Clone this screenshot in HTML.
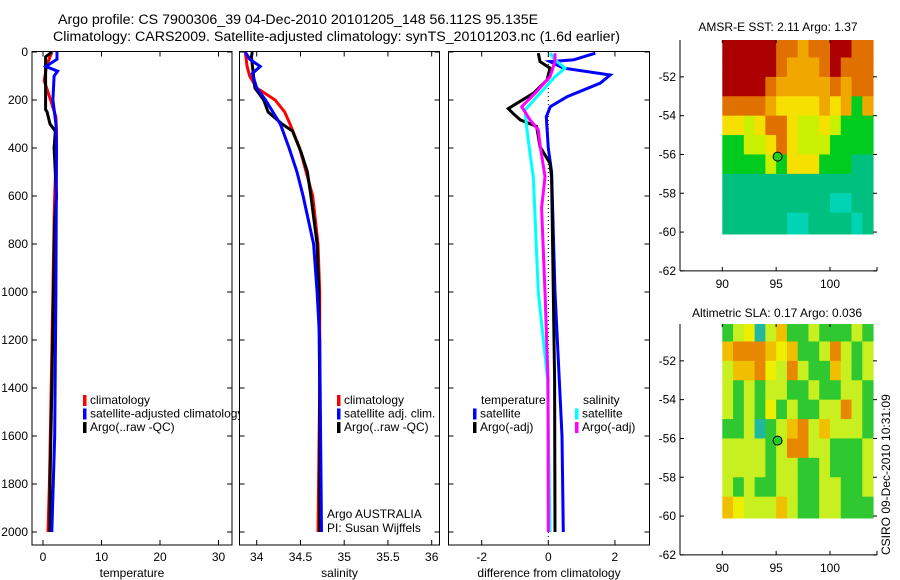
<!DOCTYPE html>
<html><head><meta charset="utf-8">
<style>
html,body{margin:0;padding:0;background:#fff;}
svg{display:block;font-family:"Liberation Sans",sans-serif;}
text{font-size:12px;fill:#000;}
</style></head>
<body>
<svg id="chart" width="900" height="580" viewBox="0 0 900 580" xmlns="http://www.w3.org/2000/svg">
<defs><clipPath id="clip1"><rect x="0" y="0" width="239" height="580"/></clipPath></defs>
<text x="58" y="24" style="font-size:14.2px">Argo profile: CS 7900306_39 04-Dec-2010 20101205_148 56.112S 95.135E</text>
<text x="53" y="41" style="font-size:14.2px">Climatology: CARS2009. Satellite-adjusted climatology: synTS_20101203.nc (1.6d earlier)</text>
<text x="778" y="31" text-anchor="middle">AMSR-E SST: 2.11 Argo: 1.37</text>
<text x="777" y="317" text-anchor="middle">Altimetric SLA: 0.17 Argo: 0.036</text>
<text transform="translate(890,555) rotate(-90)">CSIRO 09-Dec-2010 10:31:09</text>
<g id="plots"></g>
</svg>
<script>
// depth levels
const depT=[0,20,60,120,200,270,330,400,600,700,1000,1400,1800,2000];
const tClim=[1.5,1.2,0.6,0.2,1.3,2.2,2.3,2.3,2.0,1.9,1.7,1.4,1.1,0.85];
const depTA=[0,20,100,240,250,300,330,400,600,700,1000,1400,1800,2000];
const tArgo=[1.5,0.45,0.45,0.45,0.7,1.2,2.1,1.9,2.3,2.0,1.8,1.5,1.2,1.2];
const depTS=[0,30,60,80,100,200,240,300,400,1000,1600,2000];
const tSat=[2.4,2.4,0.5,2.5,1.9,1.7,1.9,2.2,2.3,2.2,2.0,1.5];

const depS=[0,60,100,150,200,250,300,400,600,800,1000,1400,2000];
const sClim=[33.87,33.89,33.92,34.0,34.21,34.32,34.38,34.49,34.64,34.70,34.72,34.72,34.70];
const depSA=[0,20,150,200,250,300,330,420,500,600,800,1000,1400,2000];
const sArgo=[33.95,33.94,33.98,34.08,34.13,34.29,34.41,34.51,34.58,34.62,34.69,34.71,34.72,34.72];
const depSS=[0,30,60,90,150,200,300,400,500,600,800,1000,1200,2000];
const sSat=[33.87,33.92,34.04,33.95,34.0,34.1,34.27,34.37,34.46,34.53,34.65,34.69,34.72,34.74];

const depD=[5,33,40,67,96,130,186,228,270,400,500,1000,1367,1600,2000];
const dTSat=[1.41,0.75,0.05,0.45,1.86,1.56,0.57,0.06,-0.06,0.0,0.1,0.2,0.33,0.41,0.45];
const depDA=[5,40,67,117,172,236,257,283,310,394,464,520,1000,1367,2000];
const dTArgo=[-0.3,-0.25,0.05,-0.04,-0.45,-1.2,-1.05,-0.84,-0.35,-0.25,0.05,0.1,0.15,0.19,0.2];
const depDC=[5,33,67,103,172,242,325,422,520,1000,1367,2000];
const dSSat=[0.05,0.2,0.5,0.2,-0.25,-0.7,-0.64,-0.55,-0.45,-0.3,-0.02,0.05];
const depDM=[5,40,103,172,228,283,325,394,520,650,1000,1367,2000];
const dSArgo=[0.2,0.2,0.05,-0.4,-0.8,-0.55,-0.3,-0.24,-0.1,-0.2,-0.1,-0.01,0.0];

const depthTicks=[0,200,400,600,800,1000,1200,1400,1600,1800,2000];
const tempTicks=[0,10,20,30];
const salTicks=[34,34.5,35,35.5,36];
const diffTicks=[-2,0,2];
const latTicks=[-52,-54,-56,-58,-60,-62];
const lonTicks=[90,95,100];

// map grids: rows lat -50..-60 (1 deg), cols lon 90..104
const sstGrid=["RRRRROOoOORROO","RRRRROoooOROOO","RRRROoooooOoOO","OOOOoYYYYoYoGo","YYyYOOYyyYyGGG","GGyyYOYyyyGGGG","GGGGyGYYYGGGgg","gggggggggggggg","ggggggggggTTgg","ggggggTTggggTg"];
const slaGrid=["GyYTyoGGyGGGyG","oOOOoYoGGyOyGy","yooOYyOyGGoyGy","yGyGyyGGyGGyyG","yGyGYGyGGyyOyG","GGyTGyoOyoyyyG","yyyyGyOOyyGGGy","yyyyGyyGGyGGGy","yGyGGyyGGyyGGy","oYyyyoyGGyyGGG"];
const sstArgo=[95.135,-56.112];

const NS="http://www.w3.org/2000/svg";
const root=document.getElementById('plots');
function el(tag,attrs,parent){const e=document.createElementNS(NS,tag);for(const k in attrs)e.setAttribute(k,attrs[k]);(parent||root).appendChild(e);return e;}
const Y0=52, YK=0.24;
const yD=d=>Y0+d*YK;

function panel(name,x0,x1,xs,ticks,fmt,label,showY){
  const g=el('g',{});
  
  
  const fr=el('rect',{x:x0,y:51.5,width:x1-x0,height:545-51.5,fill:'none',stroke:'#000','stroke-width':1},g);
  
  
  depthTicks.forEach(d=>{
    el('line',{x1:x0,x2:x0+5,y1:yD(d),y2:yD(d),stroke:'#000'},g);
    el('line',{x1:x1-5,x2:x1,y1:yD(d),y2:yD(d),stroke:'#000'},g);
    if(showY){const t=el('text',{x:x0-4,y:yD(d)+4,'text-anchor':'end'},g);t.textContent=d;
      
      }
  });
  ticks.forEach(v=>{
    const x=xs(v);
    el('line',{x1:x,x2:x,y1:51.5,y2:56.5,stroke:'#000'},g);
    el('line',{x1:x,x2:x,y1:540,y2:545,stroke:'#000'},g);
    const t=el('text',{x:x,y:561,'text-anchor':'middle'},g);t.textContent=fmt(v);
    
    
  });
  const l=el('text',{x:(x0+x1)/2,y:577,'text-anchor':'middle'},g);l.textContent=label;
  
  
  return g;
}
function line(g,name,deps,vals,xs,color,w){
  const p=deps.map((d,i)=>xs(vals[i]).toFixed(1)+','+yD(d).toFixed(1)).join(' ');
  const e=el('polyline',{points:p,fill:'none',stroke:color,'stroke-width':w||3,'stroke-linejoin':'miter'},g);
  
  
}
function legend(g,x,y,items){
  items.forEach((it,i)=>{
    const yy=y+i*13.5;
    if(it.c) el('rect',{x:x,y:yy-9,width:3.5,height:11,fill:it.c},g);
    const t=el('text',{x:x+(it.c?7:8),y:yy},g);t.textContent=it.t;
    
    
  });
}

// Panel 1
const xT=v=>43+v*5.85;
const g1=panel('temperature-panel',32,232,xT,tempTicks,v=>v,'temperature',true);
line(g1,'temp-climatology-line',depT,tClim,xT,'#ff0000');
line(g1,'temp-argo-line',depTA,tArgo,xT,'#000');
line(g1,'temp-satellite-line',depTS,tSat,xT,'#0000ff');
const lg1=el('g',{'clip-path':'url(#clip1)'},g1);
legend(lg1,83,404,[{c:'#f00',t:'climatology'},{c:'#00f',t:'satellite-adjusted climatology'},{c:'#000',t:'Argo(..raw -QC)'}]);

// Panel 2
const xS=v=>256.7+(v-34)*87.5;
const g2=panel('salinity-panel',239.5,439.5,xS,salTicks,v=>v,'salinity',false);
line(g2,'sal-climatology-line',depS,sClim,xS,'#ff0000');
line(g2,'sal-argo-line',depSA,sArgo,xS,'#000');
line(g2,'sal-satellite-line',depSS,sSat,xS,'#0000ff');
legend(g2,337,404,[{c:'#f00',t:'climatology'},{c:'#00f',t:'satellite adj. clim.'},{c:'#000',t:'Argo(..raw -QC)'}]);
const a1=el('text',{x:327,y:518},g2);a1.textContent='Argo AUSTRALIA';


const a2=el('text',{x:327,y:532},g2);a2.textContent='PI: Susan Wijffels';



// Panel 3
const xDf=v=>548.3+v*33.3;
const g3=panel('difference-panel',448.5,649.5,xDf,diffTicks,v=>v,'difference from climatology',false);
el('line',{x1:xDf(0),x2:xDf(0),y1:52,y2:540,stroke:'#000','stroke-dasharray':'1,3'},g3);
line(g3,'temp-satellite-diff-line',depD,dTSat,xDf,'#0000ff');
line(g3,'temp-argo-diff-line',depDA,dTArgo,xDf,'#000');
line(g3,'sal-satellite-diff-line',depDC,dSSat,xDf,'#00ffff');
line(g3,'sal-argo-diff-line',depDM,dSArgo,xDf,'#ff00ff');
legend(g3,473,404,[{c:null,t:'temperature'},{c:'#00f',t:'satellite'},{c:'#000',t:'Argo(-adj)'}]);
legend(g3,575,404,[{c:null,t:'salinity'},{c:'#0ff',t:'satellite'},{c:'#f0f',t:'Argo(-adj)'}]);

// Maps
const sstCol={R:'#aa0000',O:'#e07000',o:'#f0a800',Y:'#f5e000',y:'#c8f000',G:'#00cc20',g:'#00c080',T:'#00d4b4'};
const slaCol={O:'#e88800',o:'#f0c000',Y:'#eeee00',y:'#c8f020',G:'#30c830',T:'#20b8a0'};
const xLon=lon=>722.3+(lon-90)*10.77;
function map(name,top,latTop,grid,cols){
  const g=el('g',{});
  
  
  const yLat=lat=>top+(latTop-lat)*19.4;
  grid.forEach((row,r)=>{
    for(let c=0;c<row.length;c++){
      const x=xLon(90+c), x2=Math.min(xLon(91+c),877);
      const cell=el('rect',{x:x,y:r==0?top:yLat(-50-r),width:x2-x+0.5,height:(r==9?yLat(-60.1):yLat(-51-r))-(r==0?top:yLat(-50-r))+0.5,fill:cols[row[c]]},g);
      
      
    }
  });
  const bot=yLat(-62);
  el('line',{x1:680,x2:680,y1:top,y2:bot,stroke:'#000'},g);
  el('line',{x1:680,x2:877,y1:bot,y2:bot,stroke:'#000'},g);
  latTicks.forEach(l=>{
    const y=yLat(l);
    el('line',{x1:680,x2:684,y1:y,y2:y,stroke:'#000'},g);
    el('line',{x1:873,x2:877,y1:y,y2:y,stroke:'#000'},g);
    const t=el('text',{x:676,y:y+4,'text-anchor':'end'},g);t.textContent=l;
    
    
  });
  lonTicks.forEach(l=>{
    const x=xLon(l);
    el('line',{x1:x,x2:x,y1:bot-4,y2:bot,stroke:'#000'},g);
    el('line',{x1:x,x2:x,y1:top,y2:top+3,stroke:'#000'},g);
    const t=el('text',{x:x,y:bot+17,'text-anchor':'middle'},g);t.textContent=l;
    
    
  });
  el('line',{x1:877,x2:877,y1:bot-4,y2:bot,stroke:'#000'},g);
  const m=el('circle',{cx:xLon(sstArgo[0]),cy:yLat(sstArgo[1]),r:4.5,fill:'#22cc22',stroke:'#000','stroke-width':1},g);
  
  
}
map('sst-map',40,-50.1,sstGrid,sstCol);
map('sla-map',324,-50.1,slaGrid,slaCol);
</script>
</body></html>
